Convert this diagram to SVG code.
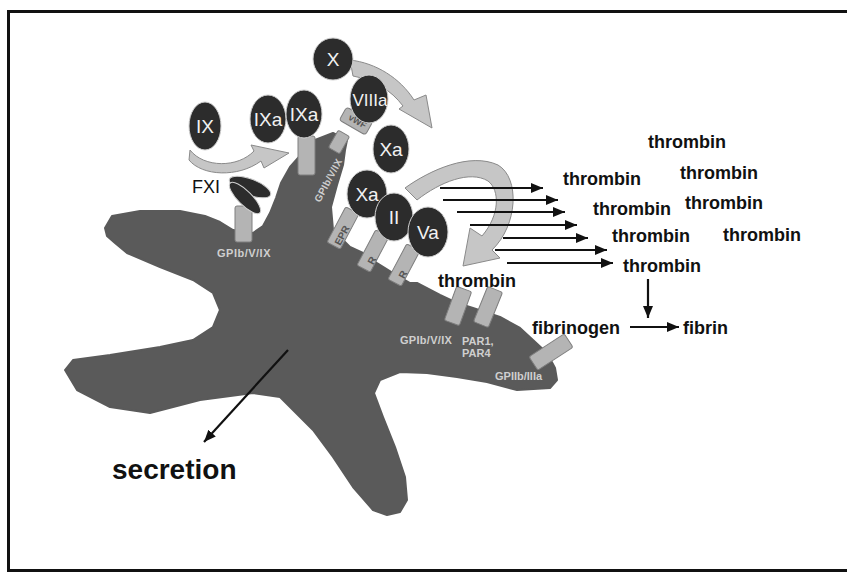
<svg xmlns="http://www.w3.org/2000/svg" width="847" height="575" viewBox="0 0 847 575">
  <style>
    .factor { fill: #2c2c2c; stroke: #d0d0d0; stroke-width: 1; }
    .flabel { font-family: "Liberation Sans", Arial, sans-serif; font-size: 19px; fill: #f2f2f2; text-anchor: middle; }
    .receptor { fill: #b4b4b4; stroke: #7e7e7e; stroke-width: 1; }
    .rlabel { font-family: "Liberation Sans", Arial, sans-serif; font-size: 11px; font-weight: bold; fill: #cfcfcf; }
    .rinner { font-family: "Liberation Sans", Arial, sans-serif; font-size: 9px; font-weight: bold; fill: #555555; text-anchor: middle; }
    .band { fill: #c6c6c6; stroke: #8a8a8a; stroke-width: 1; stroke-linejoin: round; }
    .word { font-family: "Liberation Sans", Arial, sans-serif; font-size: 18px; font-weight: bold; fill: #111111; }
    .conn { stroke: #111111; stroke-width: 2.2; fill: none; marker-end: url(#head); }
  </style>
  <defs>
    <marker id="head" markerUnits="userSpaceOnUse" markerWidth="13" markerHeight="11" refX="12" refY="5" orient="auto">
      <path d="M0,0 L12,5 L0,10 Z" fill="#111111"/>
    </marker>
  </defs>

  <rect width="847" height="575" fill="#ffffff"/>
  <!-- outer frame -->
  <rect x="8.5" y="11.5" width="845" height="559" fill="none" stroke="#111111" stroke-width="3"/>

  <!-- activated platelet body -->
  <g id="platelet">
    <path fill="#5a5a5a" stroke="#5a5a5a" stroke-width="2" stroke-linejoin="round"
      d="M105,228 L112,216 L140,211 L180,211 L205,216 L220,222 L233,230 L253,233 L263,226 L270,213 L276,198 L281,183 L290,167 L298,158 L315,140 L333,133 L347,140 L345,150 L343,165 L337,185 L331,207 L333,230 L350,247 L363,253 L377,263 L393,273 L410,283 L417,283 L440,295 L457,303 L473,308 L500,317 L520,328 L533,340 L547,353 L555,368 L557,380 L550,388 L517,390 L487,382 L457,377 L427,373 L400,372 L380,380 L374,393 L383,417 L395,447 L405,477 L407,500 L400,512 L387,515 L373,510 L353,487 L333,457 L313,430 L300,417 L280,397 L253,393 L200,400 L150,413 L110,407 L77,390 L65,370 L73,360 L110,355 L160,347 L193,340 L213,327 L220,310 L213,293 L193,280 L160,267 L127,253 L115,243 L107,236 Z"/>
  </g>

  <!-- membrane receptors -->
  <g id="receptor-gpib-fxi">
    <rect class="receptor" x="235" y="206" width="17" height="36" rx="2"/>
    <text class="rlabel" x="217" y="257" letter-spacing="0.5">GPIb/V/IX</text>
  </g>
  <g id="receptor-ixa">
    <rect class="receptor" x="298" y="136" width="17" height="39" rx="2"/>
  </g>
  <g id="receptor-vwf">
    <rect class="receptor" x="-6.5" y="-10" width="13" height="20" rx="2" transform="translate(339,142) rotate(30)"/>
    <rect class="receptor" x="-15" y="-7.5" width="30" height="15" rx="3" transform="translate(356,121) rotate(30)"/>
    <text class="rinner" transform="translate(356,124) rotate(30)">vWF</text>
    <text class="rlabel" style="font-size:10px" transform="translate(320,203) rotate(-62)" letter-spacing="0.3">GPIb/V/IX</text>
  </g>
  <g id="receptor-epr">
    <rect class="receptor" x="-7.5" y="-20" width="15" height="40" rx="2" transform="translate(343,228) rotate(28)"/>
    <text class="rinner" style="font-size:10px" transform="translate(345,237) rotate(-62)">EPR</text>
  </g>
  <g id="receptor-r1">
    <rect class="receptor" x="-7.5" y="-20" width="15" height="40" rx="2" transform="translate(373,251) rotate(28)"/>
    <text class="rinner" style="font-size:10px" transform="translate(375,262) rotate(-62)">R</text>
  </g>
  <g id="receptor-r2">
    <rect class="receptor" x="-7.5" y="-20" width="15" height="40" rx="2" transform="translate(404,265) rotate(28)"/>
    <text class="rinner" style="font-size:10px" transform="translate(406,276) rotate(-62)">R</text>
  </g>
  <g id="receptor-gpib-thrombin">
    <rect class="receptor" x="-8" y="-18" width="16" height="36" rx="2" transform="translate(458,306) rotate(20)"/>
    <text class="rlabel" x="400" y="344" letter-spacing="0.3">GPIb/V/IX</text>
  </g>
  <g id="receptor-par">
    <rect class="receptor" x="-8" y="-19" width="16" height="38" rx="2" transform="translate(488,307) rotate(22)"/>
    <text class="rlabel" x="462" y="345">PAR1,</text>
    <text class="rlabel" x="462" y="357">PAR4</text>
  </g>
  <g id="receptor-gpiib">
    <rect class="receptor" x="-21" y="-8" width="42" height="16" rx="2" transform="translate(551,352) rotate(-33)"/>
    <text class="rlabel" x="495" y="380">GPIIb/IIIa</text>
  </g>

  <!-- broad conversion arrows -->
  <g id="conversions">
    <path class="band" d="M190,150 C204,168 238,168 254,151 L251,145 L289,153 L264,168 L261,161 C238,178 202,176 189,160 Z"/>
    <path class="band" d="M350,60 C376,63 400,78 414,100 L426,95 L432,128 L399,109 L403,106 C391,90 374,80 353,76 Z"/>
    <path class="band" d="M405,188 C430,170 470,152 498,165 C520,178 518,225 492,250 L500,258 L463,266 L470,228 L482,236 C500,215 500,190 488,181 C470,170 440,182 417,200 Z"/>
  </g>

  <!-- FXI bound to GPIb/V/IX -->
  <g id="fxi">
    <ellipse class="factor" cx="250" cy="187" rx="22" ry="8" transform="rotate(21 250 187)"/>
    <ellipse class="factor" cx="245" cy="198" rx="21" ry="7" transform="rotate(45 245 198)"/>
    <text x="192" y="193" font-family="Liberation Sans, Arial, sans-serif" font-size="18" fill="#111111">FXI</text>
  </g>

  <!-- coagulation factors -->
  <g id="factor-ix">
    <ellipse class="factor" cx="205" cy="126" rx="16" ry="24"/>
    <text class="flabel" x="205" y="133">IX</text>
  </g>
  <g id="factor-ixa-free">
    <ellipse class="factor" cx="268" cy="119" rx="18" ry="24"/>
    <text class="flabel" x="268" y="126">IXa</text>
  </g>
  <g id="factor-ixa-bound">
    <ellipse class="factor" cx="304" cy="114" rx="18" ry="24"/>
    <text class="flabel" x="304" y="121">IXa</text>
  </g>
  <g id="factor-x">
    <ellipse class="factor" cx="333" cy="59" rx="20" ry="21"/>
    <text class="flabel" x="333" y="66">X</text>
  </g>
  <g id="factor-viiia">
    <ellipse class="factor" cx="369" cy="99" rx="19" ry="24"/>
    <text class="flabel" x="370" y="106" style="font-size:17px">VIIIa</text>
  </g>
  <g id="factor-xa-free">
    <ellipse class="factor" cx="391" cy="149" rx="18" ry="24"/>
    <text class="flabel" x="391" y="156">Xa</text>
  </g>
  <g id="factor-xa-bound">
    <ellipse class="factor" cx="367" cy="194" rx="20" ry="24"/>
    <text class="flabel" x="367" y="201">Xa</text>
  </g>
  <g id="factor-ii">
    <ellipse class="factor" cx="394" cy="217" rx="19" ry="24"/>
    <text class="flabel" x="394" y="224">II</text>
  </g>
  <g id="factor-va">
    <ellipse class="factor" cx="428" cy="232" rx="20" ry="25"/>
    <text class="flabel" x="428" y="239">Va</text>
  </g>

  <!-- connectors -->
  <g id="connectors">
    <path class="conn" d="M440,188 H543"/>
    <path class="conn" d="M443,200 H558"/>
    <path class="conn" d="M457,212 H565"/>
    <path class="conn" d="M470,225 H577"/>
    <path class="conn" d="M503,238 H588"/>
    <path class="conn" d="M495,250 H607"/>
    <path class="conn" d="M507,263 H613"/>
    <path class="conn" d="M648,279 V318"/>
    <path class="conn" d="M630,327 H679"/>
    <path class="conn" d="M288,350 L204,442"/>
  </g>

  <!-- product labels -->
  <g id="labels">
    <text class="word" x="648" y="148">thrombin</text>
    <text class="word" x="680" y="179">thrombin</text>
    <text class="word" x="563" y="185">thrombin</text>
    <text class="word" x="685" y="209">thrombin</text>
    <text class="word" x="593" y="215">thrombin</text>
    <text class="word" x="612" y="242">thrombin</text>
    <text class="word" x="723" y="241">thrombin</text>
    <text class="word" x="623" y="272">thrombin</text>
    <text class="word" x="438" y="287">thrombin</text>
    <text class="word" x="532" y="334">fibrinogen</text>
    <text class="word" x="683" y="334">fibrin</text>
    <text class="word" x="112" y="479" style="font-size:28px">secretion</text>
  </g>
</svg>
